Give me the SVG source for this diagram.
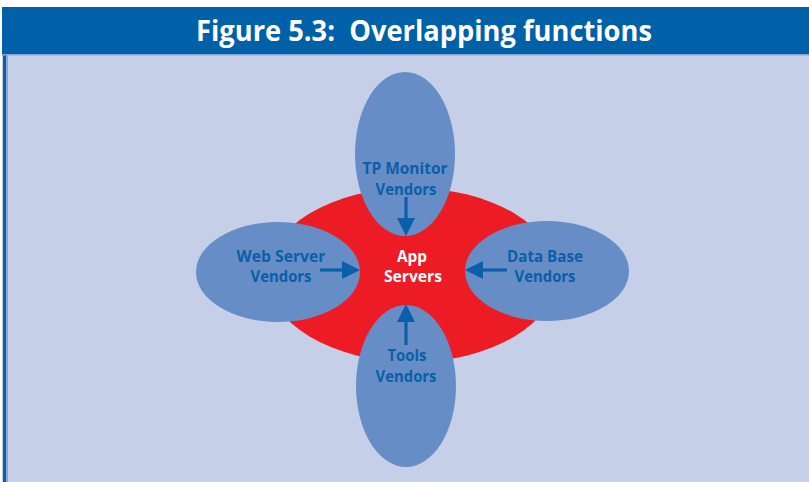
<svg xmlns="http://www.w3.org/2000/svg" width="809" height="482" viewBox="0 0 809 482">
  <defs>
    <style>
      .vendor { fill: #678dc6; }
      .lbl { font-family: "Open Sans", "Liberation Sans", sans-serif; font-weight: 700; font-size: 16px; fill: #0a5fa8; text-anchor: middle; }
      .core { font-family: "Open Sans", "Liberation Sans", sans-serif; font-weight: 700; font-size: 16px; fill: #ffffff; text-anchor: middle; }
      .title { font-family: "Open Sans", "Liberation Sans", sans-serif; font-weight: 700; font-size: 29px; fill: #ffffff; text-anchor: middle; }
      .link { stroke: #0a5fa8; stroke-width: 3.2; fill: none; }
      .head { fill: #0a5fa8; }
    </style>
  </defs>

  <!-- page background -->
  <rect x="0" y="0" width="809" height="482" fill="#ffffff"/>
  <rect x="2" y="54" width="807" height="428" fill="#c5d0e8"/>
  <rect x="3" y="54" width="3" height="428" fill="#0a5fa8"/>
  <rect x="6" y="54" width="2" height="428" fill="#86a8d8"/>
  <rect x="2" y="54" width="807" height="1.5" fill="#86a8d8"/>

  <!-- header bar -->
  <g id="header">
    <rect x="2" y="7" width="807" height="47" fill="#0060a8"/>
    <text class="title" x="424" y="41" textLength="456" lengthAdjust="spacingAndGlyphs">Figure 5.3:&#160; Overlapping functions</text>
  </g>

  <!-- central application server field -->
  <g id="app-servers">
    <ellipse cx="412" cy="275" rx="145" ry="87" fill="#ed1c24"/>
  </g>

  <g id="tp-monitor-vendors">
    <ellipse class="vendor" cx="405" cy="154" rx="50" ry="82"/>
    <text class="lbl" x="405" y="174" textLength="85" lengthAdjust="spacingAndGlyphs">TP Monitor</text>
    <text class="lbl" x="406" y="195" textLength="61" lengthAdjust="spacingAndGlyphs">Vendors</text>
  </g>

  <g id="tools-vendors">
    <ellipse class="vendor" cx="406" cy="386" rx="50" ry="81"/>
    <text class="lbl" x="407" y="361" textLength="39" lengthAdjust="spacingAndGlyphs">Tools</text>
    <text class="lbl" x="406" y="382" textLength="61" lengthAdjust="spacingAndGlyphs">Vendors</text>
  </g>

  <g id="web-server-vendors">
    <ellipse class="vendor" cx="278" cy="272" rx="82" ry="50"/>
    <text class="lbl" x="281" y="262" textLength="89" lengthAdjust="spacingAndGlyphs">Web Server</text>
    <text class="lbl" x="281" y="282" textLength="61" lengthAdjust="spacingAndGlyphs">Vendors</text>
  </g>

  <g id="data-base-vendors">
    <ellipse class="vendor" cx="547" cy="271" rx="82" ry="50"/>
    <text class="lbl" x="545" y="262" textLength="76" lengthAdjust="spacingAndGlyphs">Data Base</text>
    <text class="lbl" x="545" y="282" textLength="61" lengthAdjust="spacingAndGlyphs">Vendors</text>
  </g>

  <g id="app-servers-label">
    <text class="core" x="412" y="262" textLength="30" lengthAdjust="spacingAndGlyphs">App</text>
    <text class="core" x="413" y="282" textLength="58" lengthAdjust="spacingAndGlyphs">Servers</text>
  </g>

  <!-- arrows pointing into the application server field -->
  <g id="connectors">
    <line class="link" x1="406" y1="197" x2="406" y2="220"/>
    <polygon class="head" points="397,218 415,218 406,236"/>

    <line class="link" x1="406" y1="345" x2="406" y2="320"/>
    <polygon class="head" points="397,322 415,322 406,304"/>

    <line class="link" x1="320" y1="270" x2="344" y2="270"/>
    <polygon class="head" points="342,261 342,279 360,270"/>

    <line class="link" x1="507" y1="270" x2="481" y2="270"/>
    <polygon class="head" points="483,261 483,279 465,270"/>
  </g>
</svg>
